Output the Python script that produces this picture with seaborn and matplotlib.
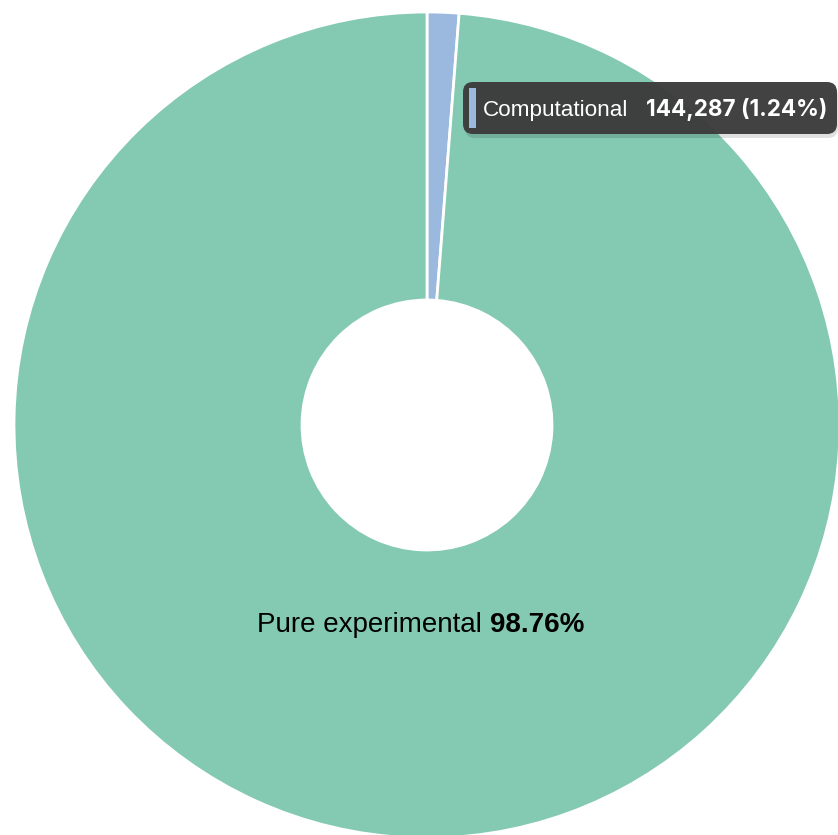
import matplotlib
matplotlib.use("Agg")
import matplotlib.pyplot as plt
import seaborn as sns
from matplotlib.patches import FancyBboxPatch, Rectangle

# data
categories = ["Computational", "Pure experimental"]
counts = [144287, 11491700]
colors = ["#9bb9df", "#84c9b1"]

sns.set_style("white")
plt.rcParams['font.family'] = ['Liberation Sans', 'DejaVu Sans']

W, H = 838, 835
fig = plt.figure(figsize=(W / 100, H / 100), dpi=100)
ax = fig.add_axes([0, 0, 1, 1])

total = sum(counts)
shares = [c / total * 100 for c in counts]

# donut (pixel coordinates, y measured from bottom)
cx, cy, r_out, r_in = 427, H - 425, 413, 125
ax.pie(counts, colors=colors, startangle=90, counterclock=False,
       center=(cx, cy), radius=r_out,
       wedgeprops=dict(width=r_out - r_in, edgecolor="white", linewidth=2))
ax.set_xlim(0, W)
ax.set_ylim(0, H)
ax.set_aspect("equal")
ax.axis("off")

# label of the big slice
t1 = ax.text(257, H - 625, "Pure experimental ", fontsize=20, color="black",
             ha="left", va="center")
fig.canvas.draw()
bb = t1.get_window_extent()
ax.text(bb.x1, H - 625, f"{shares[1]:.2f}%", fontsize=20, fontweight="bold",
        color="black", ha="left", va="center")

# tooltip
shadow = FancyBboxPatch((465, H - 138), 373, 52, boxstyle="round,pad=0,rounding_size=10",
                        facecolor="black", alpha=0.12, edgecolor="none", zorder=4)
ax.add_patch(shadow)
box = FancyBboxPatch((463, H - 134), 374, 52, boxstyle="round,pad=0,rounding_size=10",
                     facecolor="#3b3b3b", edgecolor="none", alpha=0.96, zorder=5)
ax.add_patch(box)
ax.add_patch(Rectangle((469, H - 128), 7, 40, facecolor=colors[0], edgecolor="none", zorder=6))
ax.text(483, H - 116, categories[0], fontsize=16.2, color="white",
        ha="left", va="baseline", zorder=7)
tn = ax.text(646, H - 116, f"{counts[0]:,} ({shares[0]:.2f}%)", fontsize=15,
             family=["Inter", "DejaVu Sans"], fontweight="bold", color="white",
             ha="left", va="baseline", zorder=7)
fig.canvas.draw()
tn.set_fontsize(15 * 181 / tn.get_window_extent().width)

fig.savefig("out.png", dpi=100)
